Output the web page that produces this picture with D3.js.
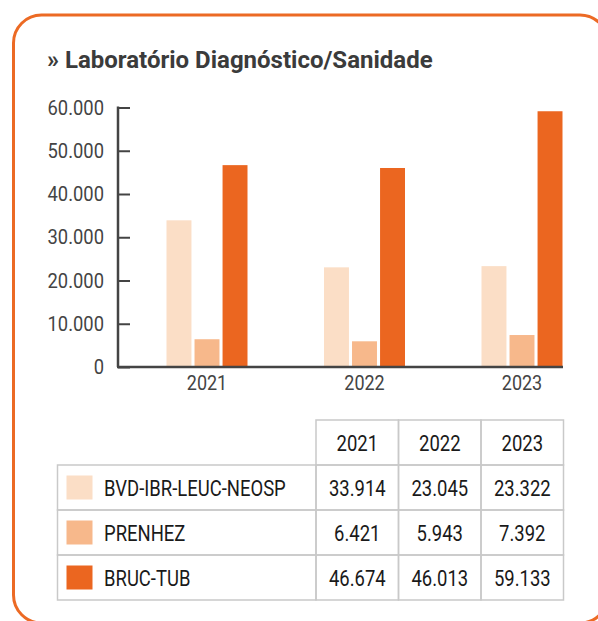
<!DOCTYPE html>
<html>
<head>
<meta charset="utf-8">
<script src="https://cdn.jsdelivr.net/npm/d3@7"></script>
<style>
  html, body { margin: 0; padding: 0; background: #fff; }
  text { font-family: Roboto, "Noto Sans", sans-serif; }
</style>
</head>
<body>
<script>
var years = ["2021", "2022", "2023"];
var series = ["BVD-IBR-LEUC-NEOSP", "PRENHEZ", "BRUC-TUB"];
var bvd = [33914, 23045, 23322];
var prenhez = [6421, 5943, 7392];
var bruc = [46674, 46013, 59133];
var yTicks = [0, 10000, 20000, 30000, 40000, 50000, 60000];
var colors = ["#fbdec6", "#f7b88b", "#eb6620"];

var values = [bvd, prenhez, bruc];
var W = 598, H = 621;

var loc = d3.formatLocale({decimal: ",", thousands: ".", grouping: [3], currency: ["R$", ""]});
var fmt = loc.format(",");

var svg = d3.select("body").append("svg")
    .attr("width", W)
    .attr("height", H);

// card
svg.append("rect")
    .attr("x", 13.5).attr("y", 15)
    .attr("width", 594.5).attr("height", 608)
    .attr("rx", 28)
    .attr("fill", "#fff")
    .attr("stroke", "#ec6a24")
    .attr("stroke-width", 3);

svg.append("text")
    .attr("x", 47).attr("y", 68)
    .attr("font-size", 24)
    .attr("font-weight", "bold")
    .attr("fill", "#3b3b3b")
    .text("» Laboratório Diagnóstico/Sanidade");

// chart
var axisX = 118, axisEnd = 563;
var y = d3.scaleLinear().domain([0, 60000]).range([367, 107.5]);
var x0 = d3.scalePoint().domain(years).range([207, 522]);
var x1 = d3.scaleBand().domain(series).range([-40.5, 40.5]).paddingInner(0.11);

var chart = svg.append("g");

// y axis, ticks pointing inward
var yAxis = chart.append("g")
    .attr("transform", "translate(" + axisX + ",0)")
    .call(d3.axisRight(y).tickValues(yTicks).tickSize(12).tickFormat(""));
yAxis.select(".domain").remove();
yAxis.selectAll("line").attr("stroke", "#444").attr("stroke-width", 2);

chart.append("line")
    .attr("x1", axisX).attr("x2", axisX)
    .attr("y1", y(60000) - 1).attr("y2", y(0))
    .attr("stroke", "#444").attr("stroke-width", 2.5);

chart.selectAll("text.ylab")
    .data(yTicks)
    .enter()
    .append("text")
    .attr("class", "ylab")
    .attr("text-anchor", "end")
    .attr("font-size", 20)
    .attr("fill", "#444")
    .attr("transform", function (d) {
        return "translate(104," + (y(d) + 7) + ") scale(0.92,1)";
    })
    .text(function (d) { return fmt(d); });

// bars
var groups = chart.selectAll("g.year")
    .data(years)
    .enter()
    .append("g")
    .attr("class", "year")
    .attr("transform", function (d) { return "translate(" + x0(d) + ",0)"; });

groups.selectAll("rect")
    .data(function (d, i) {
        return series.map(function (s, j) { return {s: s, v: values[j][i], j: j}; });
    })
    .enter()
    .append("rect")
    .attr("x", function (d) { return x1(d.s); })
    .attr("width", x1.bandwidth())
    .attr("y", function (d) { return y(d.v); })
    .attr("height", function (d) { return y(0) - y(d.v); })
    .attr("fill", function (d) { return colors[d.j]; });

chart.append("line")
    .attr("x1", axisX - 1).attr("x2", axisEnd)
    .attr("y1", y(0)).attr("y2", y(0))
    .attr("stroke", "#444").attr("stroke-width", 2.5);

groups.append("text")
    .attr("text-anchor", "middle")
    .attr("font-size", 20)
    .attr("fill", "#444")
    .attr("transform", "translate(0,390) scale(0.9,1)")
    .text(function (d) { return d; });

// table
var tLeft = 57.5, colStart = 316, colW = 82.5, headTop = 420, rowH = 45;
var tbl = svg.append("g");
var border = "#c9c9c9";
var sx = 0.84;

// header cells
tbl.selectAll("rect.hcell")
    .data(years)
    .enter()
    .append("rect")
    .attr("class", "hcell")
    .attr("x", function (d, i) { return colStart + i * colW; })
    .attr("y", headTop)
    .attr("width", colW).attr("height", rowH)
    .attr("fill", "none").attr("stroke", border).attr("stroke-width", 1.5);

tbl.selectAll("text.hlab")
    .data(years)
    .enter()
    .append("text")
    .attr("class", "hlab")
    .attr("text-anchor", "middle")
    .attr("font-size", 22)
    .attr("fill", "#1a1a1a")
    .attr("transform", function (d, i) {
        return "translate(" + (colStart + (i + 0.5) * colW) + "," + (headTop + rowH / 2 + 8) + ") scale(" + sx + ",1)";
    })
    .text(function (d) { return d; });

var rows = tbl.selectAll("g.row")
    .data(series)
    .enter()
    .append("g")
    .attr("class", "row")
    .attr("transform", function (d, i) { return "translate(0," + (headTop + rowH * (i + 1)) + ")"; });

rows.append("rect")
    .attr("x", tLeft).attr("y", 0)
    .attr("width", colStart - tLeft).attr("height", rowH)
    .attr("fill", "none").attr("stroke", border).attr("stroke-width", 1.5);

rows.append("rect")
    .attr("x", 66.5).attr("y", rowH / 2 - 12)
    .attr("width", 26).attr("height", 24)
    .attr("fill", function (d, i) { return colors[i]; });

rows.append("text")
    .attr("font-size", 22)
    .attr("fill", "#1a1a1a")
    .attr("transform", "translate(104," + (rowH / 2 + 8) + ") scale(" + sx + ",1)")
    .text(function (d) { return d; });

rows.each(function (s, i) {
    var r = d3.select(this);
    r.selectAll("rect.vcell")
        .data(values[i])
        .enter()
        .append("rect")
        .attr("class", "vcell")
        .attr("x", function (d, k) { return colStart + k * colW; })
        .attr("y", 0)
        .attr("width", colW).attr("height", rowH)
        .attr("fill", "none").attr("stroke", border).attr("stroke-width", 1.5);
    r.selectAll("text.val")
        .data(values[i])
        .enter()
        .append("text")
        .attr("class", "val")
        .attr("text-anchor", "middle")
        .attr("font-size", 22)
        .attr("fill", "#1a1a1a")
        .attr("transform", function (d, k) {
            return "translate(" + (colStart + (k + 0.5) * colW) + "," + (rowH / 2 + 8) + ") scale(" + sx + ",1)";
        })
        .text(function (d) { return fmt(d); });
});
</script>
</body>
</html>
